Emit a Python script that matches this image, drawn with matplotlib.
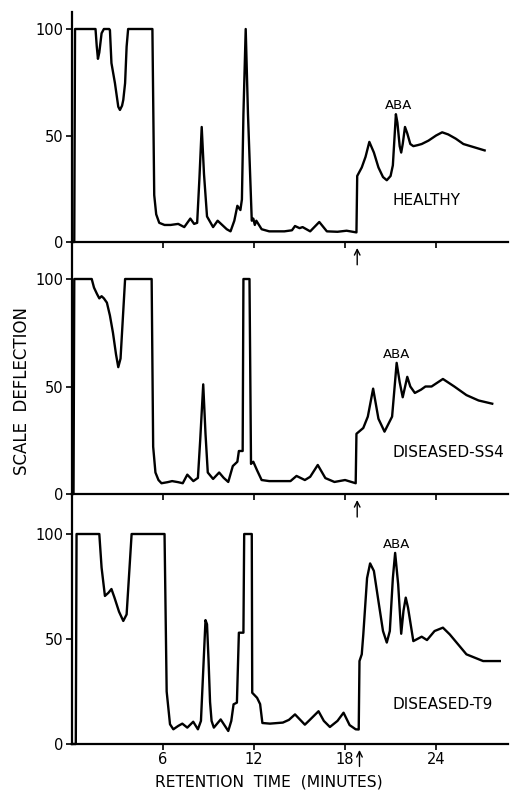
import matplotlib
matplotlib.use("Agg")
import matplotlib.pyplot as plt

plt.rcParams['font.family'] = ['DejaVu Sans']

# ---------------- data (retention time in minutes, scale deflection) -------------
healthy_t = [0.0, 0.15, 0.2, 1.55, 1.63, 1.71, 1.8, 1.95, 2.1, 2.45, 2.5, 2.6, 2.83, 3.05, 3.16,
             3.3, 3.38, 3.5, 3.6, 3.7, 5.3, 5.42, 5.55, 5.75, 6.1, 6.5, 7.0, 7.4, 7.6, 7.8, 8.05,
             8.25, 8.4, 8.55, 8.7, 8.9, 9.3, 9.6, 9.9, 10.2, 10.45, 10.7, 10.9, 11.1, 11.2, 11.3,
             11.45, 11.6, 11.85, 11.95, 12.05, 12.15, 12.5, 13.0, 14.0, 14.5, 14.7, 15.0, 15.2,
             15.7, 16.3, 16.8, 17.5, 18.1, 18.75, 18.8, 19.1, 19.35, 19.6, 19.9, 20.2, 20.5,
             20.75, 21.0, 21.15, 21.25, 21.35, 21.45, 21.6, 21.7, 21.8, 21.95, 22.1, 22.3, 22.5,
             22.8, 23.05, 23.5, 24.0, 24.4, 24.8, 25.3, 25.8, 26.5, 27.2]
healthy_v = [0, 0, 100, 100, 92, 86, 89, 98, 100, 100, 99.5, 84, 74.6, 63.5, 62,
             64, 66.7, 74.6, 91.7, 100, 100, 22, 13, 9, 8, 8, 8.5, 7, 9, 11, 8.5,
             9, 30, 54, 32, 12, 7, 10, 8, 6, 5, 10, 17, 15, 20, 60,
             100, 60, 10, 11, 8, 10, 6, 5, 5, 5.5, 7.5, 6.5, 7,
             5, 9.4, 5, 4.8, 5.3, 4.5, 31, 35, 40, 47, 42, 35, 30.5,
             29, 31, 36, 48, 60, 56, 45, 42, 46, 54, 51, 46, 45,
             45.5, 46, 47.6, 50, 51.5, 50.5, 48.5, 46, 44.5, 43]

ss4_t = [0.0, 0.1, 0.15, 1.3, 1.45, 1.65, 1.8, 1.95, 2.1, 2.3, 2.5, 2.7, 2.9, 3.05, 3.2, 3.5,
         5.25, 5.35, 5.5, 5.7, 5.9, 6.3, 6.6, 7.0, 7.3, 7.6, 8.0, 8.3, 8.45, 8.65, 8.8, 8.95,
         9.3, 9.7, 10.0, 10.3, 10.6, 10.9, 11.0, 11.25, 11.3, 11.7, 11.8, 11.95, 12.2, 12.5,
         13.0, 14.0, 14.4, 14.8, 15.35, 15.7, 16.2, 16.7, 17.3, 18.0, 18.7, 18.75, 19.2, 19.5,
         19.85, 20.2, 20.6, 21.1, 21.4, 21.6, 21.8, 22.1, 22.3, 22.6, 23.0, 23.3, 23.7, 24.45,
         25.2, 26.0, 26.8, 27.7]
ss4_v = [0, 0, 100, 100, 96, 93, 91, 92, 91, 89, 83, 75, 65, 59, 63, 100,
         100, 22, 10, 6.5, 5, 5.5, 6, 5.5, 5, 9, 6, 7.5, 25, 51, 28, 10,
         7, 10, 7.5, 5.6, 13, 15, 20, 20, 100, 100, 14, 15, 11, 6.5,
         6, 6, 6, 8.4, 6.5, 8, 13.5, 7.4, 5.6, 6.5, 5, 28, 30.7, 36,
         49, 35, 29, 36, 61, 52, 45, 54.5, 50, 47, 48.5, 50, 50, 53.5,
         50, 46, 43.5, 42]

t9_t = [0.0, 0.25, 0.3, 1.8, 1.95, 2.17, 2.4, 2.6, 2.8, 3.1, 3.38, 3.6, 3.93, 6.1, 6.24, 6.46,
        6.68, 7.0, 7.27, 7.6, 7.99, 8.3, 8.5, 8.65, 8.8, 8.9, 9.0, 9.1, 9.2, 9.35, 9.8, 10.3,
        10.5, 10.65, 10.87, 11.0, 11.3, 11.35, 11.85, 11.88, 12.2, 12.4, 12.55, 13.05, 13.9,
        14.3, 14.7, 15.35, 15.65, 16.25, 16.6, 17.0, 17.5, 17.9, 18.3, 18.7, 18.9, 18.95, 19.1,
        19.2, 19.45, 19.65, 19.9, 20.2, 20.5, 20.75, 20.95, 21.15, 21.3, 21.5, 21.7, 21.85,
        22.0, 22.15, 22.5, 23.05, 23.4, 23.9, 24.45, 24.9, 26.0, 27.1, 28.2]
t9_v = [0, 0, 100, 100, 84, 70.5, 72, 73.8, 69.7, 63, 58.6, 61.7, 100, 100, 25, 9.4,
        7, 8.6, 9.7, 7.8, 10.6, 7, 11, 35, 59, 57, 40, 20, 11, 7.8, 11.7, 6.2,
        11, 18.9, 19.7, 53, 53, 100, 100, 24.4, 22, 19, 10, 9.7, 10.2,
        11.5, 14.1, 9.2, 11.3, 15.6, 11, 8.1, 11, 14.9, 9, 7, 6.9, 39.5, 42.7,
        52, 79, 86, 82.4, 68, 53.8, 48.3, 53.8, 79, 91, 76, 52.5, 63.4,
        69.7, 64.9, 49, 51.1, 49.5, 53.8, 55.4, 52.2, 42.7, 39.5, 39.5]

panel_labels = ["HEALTHY", "DISEASED-SS4", "DISEASED-T9"]
peak_label = "ABA"
x_ticks = [6, 12, 18, 24]
x_ticklabels = ["6", "12", "18", "24"]
y_ticks = [0, 50, 100]
y_ticklabels = ["0", "50", "100"]
injection_time = [18.8, 18.8, 18.95]

# ---------------- layout ----------------
W, H = 513, 791
fig = plt.figure(figsize=(W / 100, H / 100), dpi=100)

def frac(left, top, right, bottom):
    return [left / W, 1 - bottom / H, (right - left) / W, (bottom - top) / H]

# (top px, bottom px, px per unit)
panels = [(12, 242, 2.13), (242, 494, 2.15), (494, 744, 2.10)]
series = [(healthy_t, healthy_v), (ss4_t, ss4_v), (t9_t, t9_v)]
aba_pos = [(21.5, 64), (21.4, 65), (21.4, 95)]
lab_pos = [(21.1, 19.7), (21.1, 19.5), (21.1, 19.0)]
XMAX = 28.74

axes = []
for i, ((top, bot, s), (t, v)) in enumerate(zip(panels, series)):
    ax = fig.add_axes(frac(72, top, 508, bot))
    ax.set_facecolor('none')
    ax.plot(t, v, color='black', lw=1.7, solid_joinstyle='round', clip_on=False)
    ax.set_xlim(0, XMAX)
    ax.set_ylim(0, (bot - top) / s)
    for sp in ['top', 'right']:
        ax.spines[sp].set_visible(False)
    for sp in ['left', 'bottom']:
        ax.spines[sp].set_linewidth(1.6)
    ax.set_yticks(y_ticks)
    ax.set_yticklabels(y_ticklabels)
    ax.set_xticks(x_ticks)
    if i == 2:
        ax.set_xticklabels(x_ticklabels)
    else:
        ax.set_xticklabels([])
    ax.tick_params(axis='both', direction='out', length=4, width=1.2,
                   labelsize=10.5, pad=2)
    ax.text(aba_pos[i][0], aba_pos[i][1], peak_label, ha='center', va='center',
            fontsize=9.5)
    ax.text(lab_pos[i][0], lab_pos[i][1], panel_labels[i], ha='left', va='center',
            fontsize=11)
    ax.annotate('', xy=(injection_time[i], -1.5), xytext=(injection_time[i], -12.0),
                arrowprops=dict(arrowstyle='->', lw=1.0, color='black'),
                annotation_clip=False, zorder=10)
    axes.append(ax)

fig.text(22 / W, 1 - 391 / H, "SCALE  DEFLECTION", rotation=90, ha='center',
         va='center', fontsize=12)
fig.text(269 / W, 1 - 782 / H, "RETENTION  TIME  (MINUTES)", ha='center',
         va='center', fontsize=11.2)

fig.savefig("out.png", dpi=100)
